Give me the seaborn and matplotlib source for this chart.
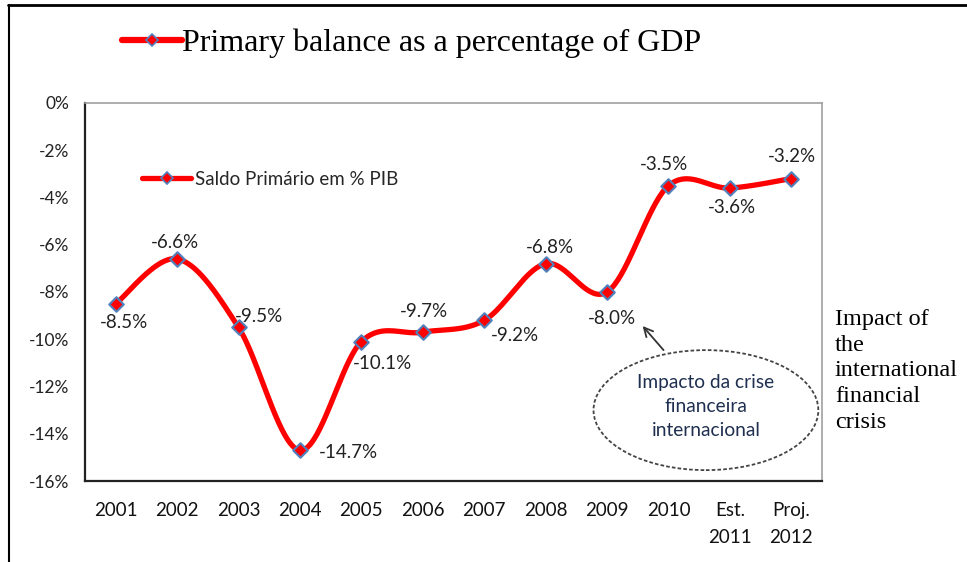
import numpy as np
import pandas as pd
import matplotlib
matplotlib.use("Agg")
import matplotlib.pyplot as plt
from matplotlib.patches import Ellipse
from matplotlib.lines import Line2D
import seaborn as sns

categories = ["2001", "2002", "2003", "2004", "2005", "2006", "2007", "2008",
              "2009", "2010", "Est.\n2011", "Proj.\n2012"]
values = [-8.5, -6.6, -9.5, -14.7, -10.1, -9.7, -9.2, -6.8, -8.0, -3.5, -3.6, -3.2]
value_labels = ["-8.5%", "-6.6%", "-9.5%", "-14.7%", "-10.1%", "-9.7%", "-9.2%",
                "-6.8%", "-8.0%", "-3.5%", "-3.6%", "-3.2%"]
y_ticks = [0, -2, -4, -6, -8, -10, -12, -14, -16]
title_text = "Primary balance as a percentage of GDP"
legend_text = "Saldo Primário em % PIB"
ellipse_text = "Impacto da crise\nfinanceira\ninternacional"
side_text = "Impact of\nthe\ninternational\nfinancial\ncrisis"

sns.set_theme(style="white")
plt.rcParams['font.family'] = ['Lato', 'DejaVu Sans']

W, H = 967, 562
fig = plt.figure(figsize=(W / 100, H / 100), dpi=100)
ax = fig.add_axes([85 / W, 1 - 481 / H, (822 - 85) / W, (481 - 103) / H])

df = pd.DataFrame({"x": np.arange(len(values)), "y": values})

# Smoothed curve (Catmull-Rom Bezier, like Excel's smoothed line)
def catmull(xs, ys, n=40):
    px, py = [], []
    N = len(xs)
    for i in range(N - 1):
        p0 = (xs[max(i - 1, 0)], ys[max(i - 1, 0)])
        p1 = (xs[i], ys[i])
        p2 = (xs[i + 1], ys[i + 1])
        p3 = (xs[min(i + 2, N - 1)], ys[min(i + 2, N - 1)])
        c1 = (p1[0] + (p2[0] - p0[0]) / 6, p1[1] + (p2[1] - p0[1]) / 6)
        c2 = (p2[0] - (p3[0] - p1[0]) / 6, p2[1] - (p3[1] - p1[1]) / 6)
        t = np.linspace(0, 1, n, endpoint=(i == N - 2))
        bx = (1 - t) ** 3 * p1[0] + 3 * (1 - t) ** 2 * t * c1[0] + 3 * (1 - t) * t ** 2 * c2[0] + t ** 3 * p2[0]
        by = (1 - t) ** 3 * p1[1] + 3 * (1 - t) ** 2 * t * c1[1] + 3 * (1 - t) * t ** 2 * c2[1] + t ** 3 * p2[1]
        px.extend(bx); py.extend(by)
    return np.array(px), np.array(py)

sx, sy = catmull(df["x"].values.astype(float), df["y"].values.astype(float))
curve = pd.DataFrame({"x": sx, "y": sy})
sns.lineplot(data=curve, x="x", y="y", ax=ax, color="#FF0000", linewidth=3.8,
             sort=False, estimator=None)
sns.scatterplot(data=df, x="x", y="y", ax=ax, marker="D", s=55, color="#FF0000",
                edgecolor="#4F81BD", linewidth=1.5, zorder=5)

ax.set_xlim(-0.5, len(values) - 0.5)
ax.set_ylim(-16, 0)
ax.set_xticks(range(len(categories)))
ax.set_xticklabels(categories, fontsize=13.5, linespacing=1.75, color="#111111")
ax.set_yticks(y_ticks)
ax.set_yticklabels([f"{t}%" for t in y_ticks], fontsize=12.5, color="#222222")
ax.tick_params(axis="x", length=0, pad=15)
ax.tick_params(axis="y", length=0, pad=11)
ax.set_xlabel("")
ax.set_ylabel("")
for s in ["left", "bottom"]:
    ax.spines[s].set_color("#222222"); ax.spines[s].set_linewidth(1.6)
for s in ["top", "right"]:
    ax.spines[s].set_color("#A0A0A0"); ax.spines[s].set_linewidth(1.2)

# Data labels (offsets in points)
offsets = [(5.8, -13.7), (-1.4, 11.5), (15, 8), (35, -1.4), (15, -16), (0.7, 15),
           (22, -11), (3, 11.5), (3.6, -19), (-3, 15), (1.4, -13.7), (0.7, 16)]
for i, (lab, off) in enumerate(zip(value_labels, offsets)):
    ax.annotate(lab, (i, values[i]), xytext=off, textcoords="offset points",
                ha="center", va="center", fontsize=13.5, color="#222222")

# Inner legend
handle = Line2D([0], [0], color="#FF0000", linewidth=3.8, marker="D", markersize=6,
                markerfacecolor="#FF0000", markeredgecolor="#4F81BD", markeredgewidth=1.2)
ax.legend([handle], [legend_text], loc="upper left", bbox_to_anchor=(0.055, 0.865),
          frameon=False, fontsize=13.5, handlelength=2.6, handletextpad=0.2)

# Ellipse annotation
ell = Ellipse((9.61, -13.0), width=3.66, height=5.08, fill=False, edgecolor="#444444",
              linestyle=(0, (2, 1.2)), linewidth=1.3, zorder=3)
ax.add_patch(ell)
ax.text(9.61, -12.85, ellipse_text, ha="center", va="center", fontsize=13.8,
        color="#1F2F50", linespacing=1.5)
ax.annotate("", xy=(8.55, -9.35), xytext=(8.95, -10.55),
            arrowprops=dict(arrowstyle="->", color="#333333", lw=1.3,
                            mutation_scale=16))

# Title legend line
fig.add_artist(Line2D([122 / W, 182 / W], [1 - 40 / H, 1 - 40 / H], color="#FF0000",
                      linewidth=4.5, solid_capstyle="round"))
fig.add_artist(Line2D([152 / W], [1 - 40 / H], marker="D", markersize=6,
                      markerfacecolor="#FF0000", markeredgecolor="#4F81BD",
                      markeredgewidth=1.2, linestyle="none"))
fig.text(182 / W, 1 - 43 / H, title_text, ha="left", va="center", fontsize=23,
         family=["Liberation Serif", "DejaVu Serif"], color="black")

fig.text(835 / W, 1 - 371 / H, side_text, ha="left", va="center", fontsize=17.5,
         family=["Liberation Serif", "DejaVu Serif"], color="black", linespacing=1.3)

# Outer frame lines
fig.add_artist(Line2D([8 / W, 1], [1 - 5 / H, 1 - 5 / H], color="black", linewidth=2))
fig.add_artist(Line2D([9 / W, 9 / W], [0, 1 - 5 / H], color="black", linewidth=1.5))

fig.savefig("out.png", dpi=100)
